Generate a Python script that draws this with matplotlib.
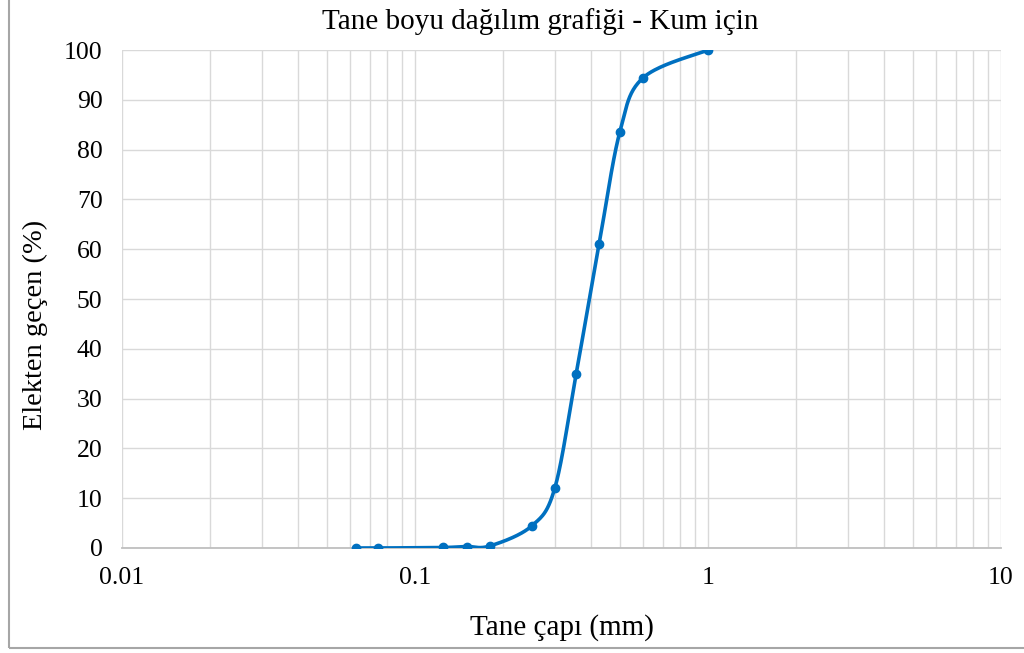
import numpy as np
import matplotlib.pyplot as plt
from matplotlib.patches import Rectangle

# sieve data
sieve_mm = [0.063, 0.075, 0.125, 0.15, 0.18, 0.25, 0.3, 0.355, 0.425, 0.5, 0.6, 1.0]
passing = [0.0, 0.0, 0.1, 0.3, 0.4, 4.4, 12.0, 35.0, 61.0, 83.5, 94.4, 100.0]

x_ticks = [0.01, 0.1, 1, 10]
x_tick_labels = ["0.01", "0.1", "1", "10"]
y_ticks = list(range(0, 101, 10))

title = "Tane boyu dağılım grafiği - Kum için"
x_label = "Tane çapı (mm)"
y_label = "Elekten geçen (%)"

blue = "#0070C0"
grid_gray = "#D9D9D9"


def smooth_curve(xs, ys, n=40):
    # excel style smoothed line: bezier segments with catmull-rom control points (in log-x space)
    px = np.log10(np.array(xs, dtype=float))
    py = np.array(ys, dtype=float)
    out_x, out_y = [], []
    t = np.linspace(0, 1, n)
    for i in range(len(px) - 1):
        i0 = max(i - 1, 0)
        i3 = min(i + 2, len(px) - 1)
        p0 = np.array([px[i], py[i]])
        p3 = np.array([px[i + 1], py[i + 1]])
        c1 = p0 + (np.array([px[i + 1], py[i + 1]]) - np.array([px[i0], py[i0]])) / 6
        c2 = p3 - (np.array([px[i3], py[i3]]) - np.array([px[i], py[i]])) / 6
        b = ((1 - t) ** 3)[:, None] * p0 + (3 * (1 - t) ** 2 * t)[:, None] * c1 \
            + (3 * (1 - t) * t ** 2)[:, None] * c2 + (t ** 3)[:, None] * p3
        out_x.extend(b[:, 0])
        out_y.extend(b[:, 1])
    return 10 ** np.array(out_x), np.array(out_y)


plt.rcParams['font.family'] = ['Liberation Serif', 'DejaVu Serif']

fig = plt.figure(figsize=(10.24, 6.53), dpi=100)
ax = fig.add_axes([0.1191, 0.1608, 0.8584, 0.7626])

# chart border (left and bottom visible)
fig.patches.append(Rectangle((9 / 1024, 1 - 648 / 653), 1.2, 1.2, transform=fig.transFigure,
                             fill=False, edgecolor="#A6A6A6", linewidth=1.5))

sx, sy = smooth_curve(sieve_mm, passing)
ax.plot(sx, sy, color=blue, linewidth=2.6, solid_capstyle='round', zorder=3)
ax.plot(sieve_mm, passing, linestyle='none', marker='o', markersize=6, color=blue, zorder=4)

ax.set_xscale('log')
ax.set_xlim(0.01, 10)
ax.set_ylim(0, 100)
ax.set_xticks(x_ticks)
ax.set_xticklabels(x_tick_labels)
ax.set_yticks(y_ticks)
ax.grid(True, which='both', axis='x', color=grid_gray, linewidth=1)
ax.grid(True, which='major', axis='y', color=grid_gray, linewidth=1)
ax.tick_params(axis='both', which='both', length=0, labelsize=18.5)
ax.tick_params(axis='x', pad=14)
ax.tick_params(axis='y', pad=14)

for s in ['top', 'right', 'left']:
    ax.spines[s].set_visible(False)
ax.spines['bottom'].set_color("#BFBFBF")
ax.spines['bottom'].set_linewidth(1.3)

fig.text(540 / 1024, 1 - 22 / 653, title, fontsize=21, ha='center', va='center')
ax.set_xlabel(x_label, fontsize=21, labelpad=18)
ax.set_ylabel(y_label, fontsize=20.5)
ax.yaxis.label.set_verticalalignment('center')
ax.yaxis.set_label_coords((35 - 122) / 879, (548 - 325) / 498)

plt.savefig("out.png", dpi=100)
